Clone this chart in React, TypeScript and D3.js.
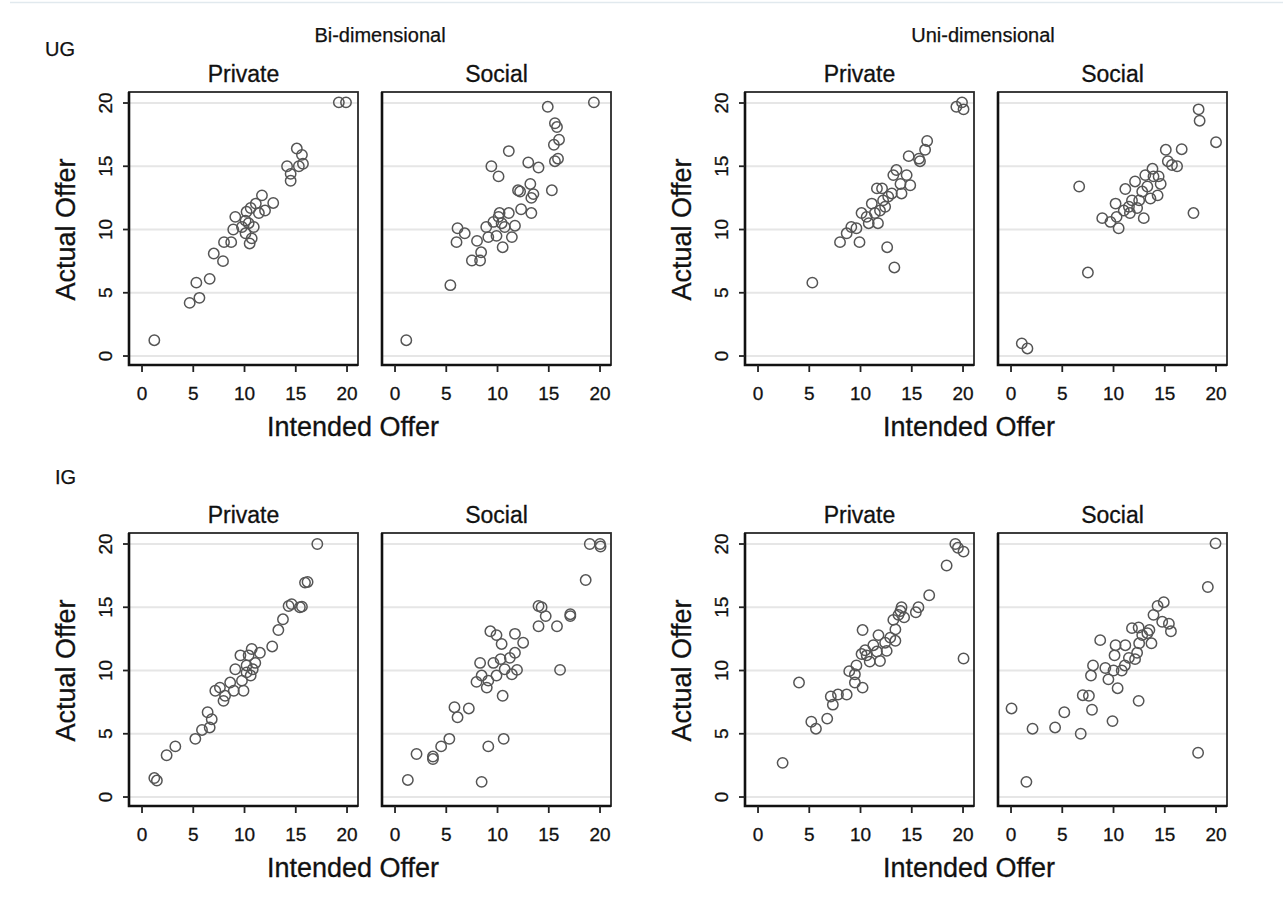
import React, { useEffect, useRef } from 'react';
import * as d3 from 'd3';

// facet labels
const games = ['UG', 'IG'];
const dimensions = ['Bi-dimensional', 'Uni-dimensional'];
const conditions = ['Private', 'Social'];
const xTicks = [0, 5, 10, 15, 20];
const yTicks = [0, 5, 10, 15, 20];

// each point is [intended offer, actual offer]
const ugBiPrivate: [number, number][] = [
  [1.2, 1.25], [4.65, 4.2], [5.6, 4.6], [5.3, 5.8], [6.6, 6.1], [7.0, 8.1], [7.9, 7.5],
  [8.0, 9.0], [8.7, 9.0], [9.1, 11.0], [8.9, 10.0], [10.1, 10.7], [10.2, 11.4], [10.6, 11.7],
  [11.1, 12.05], [11.7, 12.7], [12.8, 12.1], [10.1, 9.7], [10.5, 8.9], [10.7, 9.3], [10.9, 10.2],
  [11.4, 11.3], [12.0, 11.5], [9.75, 10.2], [10.4, 10.5], [14.15, 15.0], [14.5, 14.4],
  [14.5, 13.85], [15.1, 16.4], [15.6, 15.9], [15.7, 15.2], [15.3, 15.0], [19.2, 20.05], [19.9, 20.05]
];

const ugBiSocial: [number, number][] = [
  [1.1, 1.25], [5.4, 5.6], [6.1, 10.1], [6.0, 9.0], [6.8, 9.7], [7.5, 7.55], [8.3, 7.55],
  [8.4, 8.2], [8.0, 9.1], [8.9, 10.2], [9.1, 9.4], [9.4, 15.0], [10.1, 14.2], [9.9, 9.5],
  [10.2, 11.3], [10.4, 10.5], [10.5, 8.6], [10.7, 10.2], [11.1, 11.3], [11.1, 16.2], [11.4, 9.4],
  [11.7, 10.3], [12.0, 13.1], [12.2, 13.0], [12.3, 11.6], [13.0, 15.3], [13.2, 13.6], [13.3, 12.5],
  [13.3, 11.3], [13.5, 12.8], [14.0, 14.9], [14.9, 19.7], [15.3, 13.1], [15.5, 16.7], [15.6, 18.4],
  [15.8, 18.1], [16.0, 17.1], [15.9, 15.6], [15.6, 15.4], [19.4, 20.05], [10.1, 11.0], [9.6, 10.6]
];

const ugUniPrivate: [number, number][] = [
  [5.3, 5.8], [8.0, 9.0], [9.9, 9.0], [8.65, 9.7], [9.1, 10.2], [9.6, 10.1], [10.1, 11.3],
  [10.6, 11.0], [10.8, 10.5], [11.1, 12.05], [11.4, 11.3], [11.7, 10.5], [11.6, 13.25], [12.1, 13.25],
  [12.2, 12.3], [12.4, 11.8], [12.6, 8.6], [13.3, 7.0], [13.05, 12.85], [13.2, 14.3], [13.5, 14.7],
  [13.9, 13.6], [14.0, 12.85], [14.5, 14.3], [14.7, 15.8], [14.85, 13.5], [15.7, 15.6], [15.8, 15.4],
  [16.3, 16.3], [16.5, 17.0], [19.35, 19.7], [19.9, 20.05], [20.05, 19.5], [12.7, 12.6], [11.9, 11.5]
];

const ugUniSocial: [number, number][] = [
  [1.05, 1.0], [1.6, 0.6], [6.65, 13.4], [7.5, 6.6], [8.9, 10.9], [9.7, 10.6], [10.2, 12.05],
  [10.3, 11.0], [10.5, 10.1], [11.0, 11.5], [11.15, 13.2], [11.6, 11.3], [11.8, 12.3], [12.1, 13.8],
  [12.3, 11.7], [12.5, 12.3], [12.95, 10.9], [12.8, 13.0], [13.1, 14.3], [13.3, 13.4], [13.6, 12.45],
  [13.8, 14.8], [14.3, 12.7], [14.4, 14.2], [14.6, 13.6], [15.1, 16.3], [15.3, 15.4], [15.7, 15.1],
  [16.2, 15.0], [16.65, 16.35], [17.8, 11.3], [18.3, 19.5], [18.4, 18.6], [20.0, 16.9], [11.5, 11.8],
  [13.9, 14.2]
];

const igBiPrivate: [number, number][] = [
  [1.2, 1.5], [1.45, 1.3], [2.4, 3.3], [3.25, 4.0], [5.2, 4.6], [5.85, 5.3], [6.4, 6.7], [6.6, 5.5],
  [6.8, 6.15], [7.15, 8.4], [7.6, 8.65], [7.95, 7.6], [8.1, 8.0], [8.6, 9.05], [8.95, 8.4],
  [9.1, 10.1], [9.6, 11.2], [9.75, 9.2], [9.9, 8.4], [10.2, 9.85], [10.4, 11.2], [10.2, 10.4],
  [10.7, 11.7], [10.8, 10.1], [10.6, 9.6], [11.05, 10.6], [11.5, 11.4], [12.7, 11.9], [13.3, 13.2],
  [13.75, 14.05], [14.3, 15.1], [14.6, 15.25], [15.4, 15.0], [15.6, 15.05], [15.9, 16.95],
  [16.15, 17.0], [17.1, 20.0]
];

const igBiSocial: [number, number][] = [
  [1.25, 1.35], [2.1, 3.4], [3.7, 3.0], [3.7, 3.2], [4.5, 4.0], [5.3, 4.6], [5.8, 7.1], [6.1, 6.3],
  [7.2, 7.0], [8.45, 1.2], [9.1, 4.0], [10.6, 4.6], [10.5, 8.0], [7.95, 9.1], [8.3, 10.6],
  [8.45, 9.6], [8.95, 8.65], [9.1, 9.2], [9.3, 13.1], [9.9, 12.8], [10.4, 12.1], [9.6, 10.6],
  [9.9, 9.6], [10.3, 10.9], [10.7, 10.1], [11.2, 11.0], [11.4, 9.7], [11.7, 11.4], [11.7, 12.9],
  [11.9, 10.05], [12.5, 12.2], [14.0, 15.1], [14.3, 15.0], [14.7, 14.3], [14.0, 13.5], [15.8, 13.5],
  [16.1, 10.05], [17.1, 14.3], [17.1, 14.45], [18.6, 17.15], [19.0, 20.0], [20.0, 20.0], [20.05, 19.8]
];

const igUniPrivate: [number, number][] = [
  [2.4, 2.7], [4.0, 9.05], [5.2, 5.95], [5.65, 5.4], [6.75, 6.2], [7.3, 7.3], [7.1, 7.95], [7.8, 8.1],
  [8.65, 8.1], [8.9, 9.95], [9.45, 9.7], [9.6, 10.4], [9.45, 9.05], [10.2, 8.65], [10.2, 13.2],
  [10.1, 11.3], [10.45, 11.6], [10.6, 11.2], [10.9, 10.7], [11.25, 12.0], [11.6, 11.5], [11.75, 12.8],
  [11.9, 10.75], [12.4, 12.2], [12.55, 11.55], [12.9, 12.6], [13.2, 14.0], [13.4, 12.35], [13.4, 13.25],
  [13.7, 14.4], [13.9, 14.7], [14.0, 15.0], [14.25, 14.2], [15.4, 14.6], [15.65, 15.0], [16.7, 15.95],
  [18.4, 18.3], [19.25, 20.0], [19.5, 19.7], [20.05, 19.4], [20.05, 10.95]
];

const igUniSocial: [number, number][] = [
  [0.05, 7.0], [1.5, 1.2], [2.1, 5.4], [4.3, 5.5], [5.2, 6.7], [6.8, 5.0], [7.0, 8.05], [7.6, 8.0],
  [7.9, 6.9], [7.8, 9.6], [8.0, 10.4], [8.7, 12.4], [9.2, 10.2], [9.5, 9.3], [9.9, 6.0], [10.0, 10.0],
  [10.2, 12.0], [10.1, 11.2], [10.4, 8.6], [10.8, 10.0], [11.1, 10.4], [11.15, 12.0], [11.5, 11.0],
  [11.8, 13.35], [12.1, 10.9], [12.3, 11.4], [12.45, 13.4], [12.45, 7.6], [12.5, 12.15], [12.8, 12.8],
  [13.3, 12.95], [13.5, 13.2], [13.7, 12.15], [13.9, 14.4], [14.3, 15.1], [14.9, 15.4], [14.75, 13.85],
  [15.4, 13.7], [15.6, 13.1], [18.25, 3.5], [19.2, 16.6], [19.95, 20.05]
];

// game x dimension x condition
const panelData = [
  [[ugBiPrivate, ugBiSocial], [ugUniPrivate, ugUniSocial]],
  [[igBiPrivate, igBiSocial], [igUniPrivate, igUniSocial]]
];

const W = 1283;
const H = 923;
const FONT = '"Liberation Sans", Arial, sans-serif';

const groupLeft = [129, 745];
const panelStep = 253;
const panelW = 229;
const rowTop = [92, 533];
const panelH = 273;

export default function App() {
  const ref = useRef<SVGSVGElement>(null);

  useEffect(() => {
    const svg = d3.select(ref.current);
    svg.selectAll('*').remove();

    svg.append('rect').attr('width', W).attr('height', H).attr('fill', '#fff');
    // faint rule at the very top
    svg.append('line')
      .attr('x1', 10).attr('x2', W).attr('y1', 2.5).attr('y2', 2.5)
      .attr('stroke', '#e1e9ee').attr('stroke-width', 1.5);

    // column headers
    const headerX = [380, 983];
    dimensions.forEach((d, i) => {
      svg.append('text')
        .attr('x', headerX[i]).attr('y', 42)
        .attr('text-anchor', 'middle')
        .attr('font-family', FONT).attr('font-size', 20).attr('fill', '#111')
        .attr('stroke', '#111').attr('stroke-width', 0.25)
        .text(d);
    });

    // row labels
    const gameX = [45, 55];
    const gameY = [56, 484];
    games.forEach((g, i) => {
      svg.append('text')
        .attr('x', gameX[i]).attr('y', gameY[i])
        .attr('font-family', FONT).attr('font-size', 20).attr('fill', '#111')
        .attr('stroke', '#111').attr('stroke-width', 0.25)
        .text(g);
    });

    games.forEach((g, gi) => {
      const top = rowTop[gi];
      const bottom = top + panelH;

      dimensions.forEach((dim, di) => {
        const gLeft = groupLeft[di];

        // y axis title
        const ytX = gLeft - 54;
        const ytY = top + panelH / 2 + 1;
        svg.append('text')
          .attr('x', ytX).attr('y', ytY)
          .attr('transform', `rotate(-90, ${ytX}, ${ytY})`)
          .attr('text-anchor', 'middle')
          .attr('font-family', FONT).attr('font-size', 27).attr('fill', '#111')
          .attr('stroke', '#111').attr('stroke-width', 0.3)
          .text('Actual Offer');

        // x axis title
        svg.append('text')
          .attr('x', gLeft + 224).attr('y', bottom + 71)
          .attr('text-anchor', 'middle')
          .attr('font-family', FONT).attr('font-size', 27).attr('fill', '#111')
          .attr('stroke', '#111').attr('stroke-width', 0.3)
          .text('Intended Offer');

        conditions.forEach((cond, ci) => {
          const left = gLeft + ci * panelStep;
          const x = d3.scaleLinear().domain([-1.27, 21.07]).range([left, left + panelW]);
          const y = d3.scaleLinear().domain([-0.71, 20.87]).range([bottom, top]);
          const g = svg.append('g');

          // panel title
          g.append('text')
            .attr('x', left + panelW / 2).attr('y', top - 10)
            .attr('text-anchor', 'middle')
            .attr('font-family', FONT).attr('font-size', 23).attr('fill', '#111')
            .attr('stroke', '#111').attr('stroke-width', 0.3)
            .text(cond);

          // gridlines
          g.selectAll('line.grid')
            .data(yTicks)
            .enter().append('line')
            .attr('x1', left).attr('x2', left + panelW)
            .attr('y1', d => y(d)).attr('y2', d => y(d))
            .attr('stroke', '#e6e6e6').attr('stroke-width', 2);

          // frame: thin top/right, heavier axis lines left/bottom
          g.append('rect')
            .attr('x', left).attr('y', top)
            .attr('width', panelW).attr('height', panelH)
            .attr('fill', 'none').attr('stroke', '#2a2a2a').attr('stroke-width', 1.8);
          g.append('path')
            .attr('d', `M${left},${top}V${bottom}H${left + panelW}`)
            .attr('fill', 'none').attr('stroke', '#111').attr('stroke-width', 2.6);

          // x axis ticks + labels
          g.selectAll('line.xt')
            .data(xTicks)
            .enter().append('line')
            .attr('x1', d => x(d)).attr('x2', d => x(d))
            .attr('y1', bottom).attr('y2', bottom + 7)
            .attr('stroke', '#222').attr('stroke-width', 1.8);
          g.selectAll('text.xl')
            .data(xTicks)
            .enter().append('text')
            .attr('x', d => x(d)).attr('y', bottom + 35)
            .attr('text-anchor', 'middle')
            .attr('font-family', FONT).attr('font-size', 19).attr('fill', '#111')
            .attr('stroke', '#111').attr('stroke-width', 0.3)
            .text(d => String(d));

          // y axis only on the left panel of each pair
          if (ci === 0) {
            g.selectAll('line.yt')
              .data(yTicks)
              .enter().append('line')
              .attr('x1', left - 6).attr('x2', left)
              .attr('y1', d => y(d)).attr('y2', d => y(d))
              .attr('stroke', '#222').attr('stroke-width', 1.8);
            g.selectAll('text.yl')
              .data(yTicks)
              .enter().append('text')
              .attr('x', left - 17).attr('y', d => y(d))
              .attr('transform', d => `rotate(-90, ${left - 17}, ${y(d)})`)
              .attr('text-anchor', 'middle')
              .attr('font-family', FONT).attr('font-size', 19).attr('fill', '#111')
              .attr('stroke', '#111').attr('stroke-width', 0.3)
              .text(d => String(d));
          }

          // markers
          g.selectAll('circle')
            .data(panelData[gi][di][ci])
            .enter().append('circle')
            .attr('cx', d => x(d[0])).attr('cy', d => y(d[1]))
            .attr('r', 5.2)
            .attr('fill', 'none').attr('stroke', '#555').attr('stroke-width', 1.5);
        });
      });
    });
  }, []);

  return (
    <div style={{ position: 'absolute', left: 0, top: 0 }}>
      <svg ref={ref} width={W} height={H} />
    </div>
  );
}
